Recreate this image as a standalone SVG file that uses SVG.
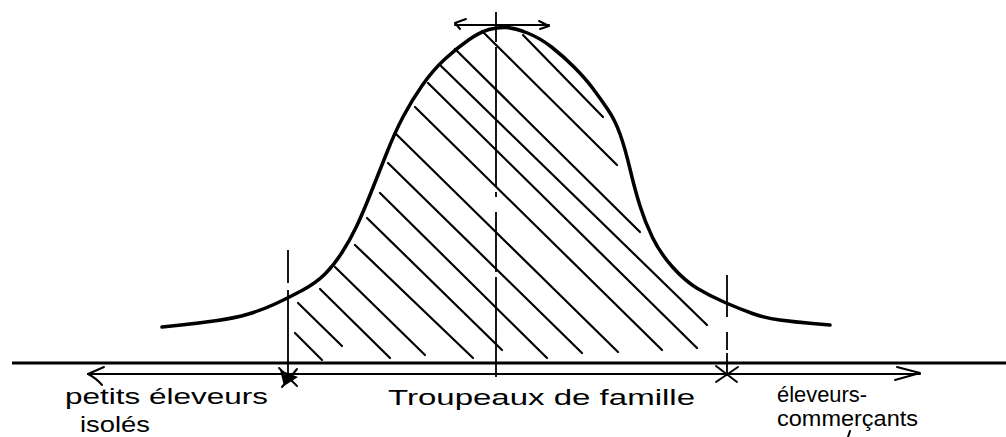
<svg xmlns="http://www.w3.org/2000/svg" width="1006" height="437" viewBox="0 0 1006 437">
<style>
.curve{fill:none;stroke:#000;stroke-width:3.5;stroke-linecap:round;stroke-linejoin:round}
.hatch{stroke:#000;stroke-width:2.2;stroke-linecap:round}
.axis{stroke:#000;stroke-width:3;fill:none}
.arrow{stroke:#000;stroke-width:2;fill:none;stroke-linecap:round;stroke-linejoin:round}
.dash{stroke:#000;stroke-width:1.8;fill:none}
.lbl{font-family:"Liberation Sans",Arial,sans-serif;font-size:22px;fill:#000}
</style>
<rect width="1006" height="437" fill="#fff"/>
<g id="hatching">
<line class="hatch" x1="295" y1="333" x2="322" y2="360"/>
<line class="hatch" x1="298" y1="303" x2="342" y2="346"/>
<line class="hatch" x1="320" y1="289" x2="390" y2="358"/>
<line class="hatch" x1="335" y1="267" x2="425" y2="355"/>
<line class="hatch" x1="355" y1="245" x2="473" y2="358"/>
<line class="hatch" x1="367" y1="218" x2="502" y2="350"/>
<line class="hatch" x1="380" y1="193" x2="547" y2="358"/>
<line class="hatch" x1="388" y1="163" x2="582" y2="353"/>
<line class="hatch" x1="395" y1="133" x2="618" y2="352"/>
<line class="hatch" x1="415" y1="107" x2="662" y2="350"/>
<line class="hatch" x1="428" y1="83" x2="697" y2="348"/>
<line class="hatch" x1="440" y1="65" x2="707" y2="325"/>
<line class="hatch" x1="455" y1="49" x2="640" y2="232"/>
<line class="hatch" x1="482" y1="31" x2="617" y2="165"/>
<line class="hatch" x1="523" y1="35" x2="603" y2="117"/>
</g>
<g id="curve">
<path class="curve" d="M162,327 L181,325 Q200,323 217.5,320.5 Q235,318 248.5,314 Q262,310 275,304 Q288,298 302,290.5 Q316,283 325,274 Q334,265 342,252.5 Q350,240 356,227.5 Q362,215 370,195 Q378,175 386.5,153.5 Q395,132 403.5,116 Q412,100 422.5,85 Q433,70 445,59 Q457,48 468.5,40 Q480,32 489,29.5 Q498,27 506.5,27.5 Q515,28 527.5,33 Q540,38 551.5,47 Q563,56 574,67 Q585,78 592.5,88 Q600,98 607.5,109 Q615,120 620,134 Q625,148 630,169 Q635,190 640,206 Q645,222 652.5,237.5 Q660,253 672.5,267 Q685,281 697.5,288.5 Q710,296 725,302.5 Q740,309 752.5,313.5 Q765,318 780,320 Q795,322 812.5,323.5 L830,325"/>
</g>
<g id="connectors">
<line class="axis" x1="12" y1="363" x2="1006" y2="363"/>
<line class="arrow" x1="88" y1="374" x2="920" y2="374"/>
<path class="arrow" d="M104,367 L88,374 Q96,378 102,385"/>
<path class="arrow" d="M897,367 L920,373 L895,380"/>
<line class="arrow" x1="455" y1="25" x2="549" y2="25"/>
<path class="arrow" d="M466,19 L455,23 L460,29"/>
<path class="arrow" d="M539,21 L549,26 L540,29"/>
<path class="dash" d="M288,250 V283 M288,290 V381"/>
<path class="dash" d="M496,12 V42 M496,47 V187 M496,192 V197 M496,212 V272 M496,277 V377"/>
<path class="dash" d="M727,275 V317 M727,332 V350 M727,353 V376"/>
</g>
<g id="marker-left">
<path d="M280,370 L298,377 L284,386 Z" fill="#000"/>
<path class="arrow" d="M279,368 L297,386 M297,369 L282,387"/>
</g>
<g id="marker-right">
<path class="arrow" d="M716,366 L737,382 M738,367 L716,382 M715,374 L740,374"/>
</g>
<g id="labels">
<text class="lbl" x="65" y="404" textLength="203" lengthAdjust="spacingAndGlyphs">petits éleveurs</text>
<text class="lbl" x="80" y="432" textLength="70" lengthAdjust="spacingAndGlyphs">isolés</text>
<text class="lbl" x="388" y="405" textLength="307" lengthAdjust="spacingAndGlyphs">Troupeaux de famille</text>
<text class="lbl" x="777" y="402" textLength="90" lengthAdjust="spacingAndGlyphs">éleveurs-</text>
<text class="lbl" x="777" y="426" textLength="141" lengthAdjust="spacingAndGlyphs">commerçants</text>
<line class="arrow" x1="850" y1="431" x2="848" y2="437"/>
</g>
</svg>
